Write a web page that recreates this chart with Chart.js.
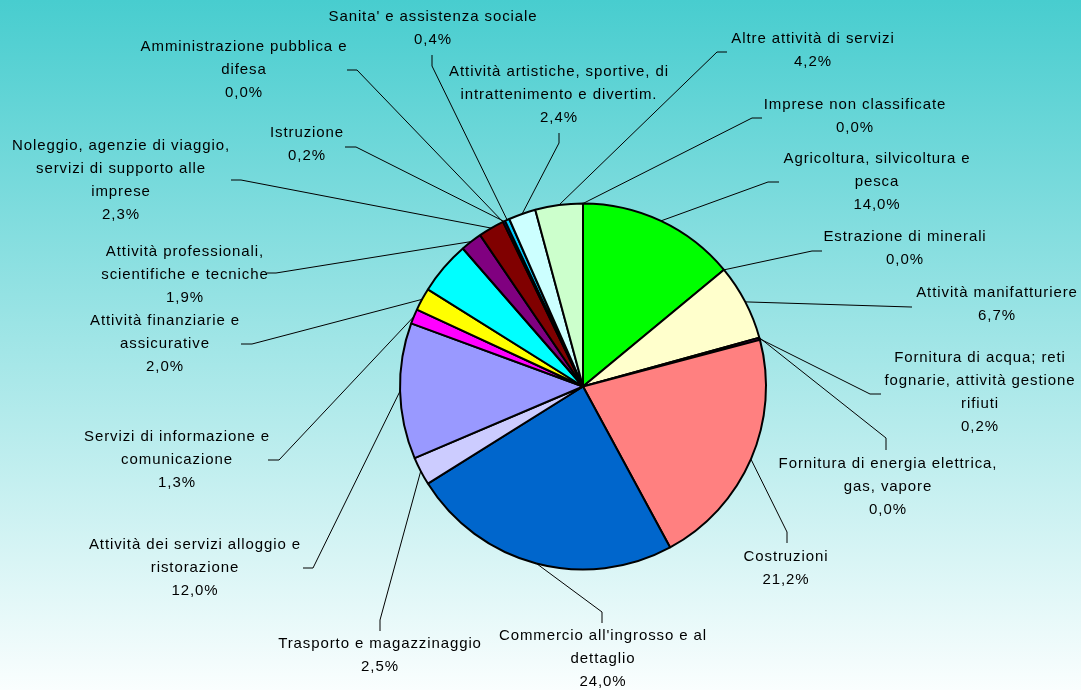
<!DOCTYPE html>
<html>
<head>
<meta charset="utf-8">
<script src="https://cdn.jsdelivr.net/npm/chart.js@4.4.1/dist/chart.umd.min.js"></script>
<style>
  html, body { margin: 0; padding: 0; }
  #wrap { width: 1081px; height: 690px; }
</style>
</head>
<body>
<div id="wrap"><canvas id="myChart" width="1081" height="690"></canvas></div>
<script>
// categories (wrapped as in the original labels)
var categories = [
  ["Agricoltura, silvicoltura e", "pesca"],
  ["Estrazione di minerali"],
  ["Attività manifatturiere"],
  ["Fornitura di energia elettrica,", "gas, vapore"],
  ["Fornitura di acqua; reti", "fognarie, attività gestione", "rifiuti"],
  ["Costruzioni"],
  ["Commercio all'ingrosso e al", "dettaglio"],
  ["Trasporto e magazzinaggio"],
  ["Attività dei servizi alloggio e", "ristorazione"],
  ["Servizi di informazione e", "comunicazione"],
  ["Attività finanziarie e", "assicurative"],
  ["Attività immobiliari"],
  ["Attività professionali,", "scientifiche e tecniche"],
  ["Noleggio, agenzie di viaggio,", "servizi di supporto alle", "imprese"],
  ["Amministrazione pubblica e", "difesa"],
  ["Istruzione"],
  ["Sanita' e assistenza sociale"],
  ["Attività artistiche, sportive, di", "intrattenimento e divertim."],
  ["Altre attività di servizi"],
  ["Imprese non classificate"]
];
var values = [14.0, 0.0, 6.7, 0.0, 0.2, 21.2, 24.0, 2.5, 12.0, 1.3, 2.0, 4.7, 1.9, 2.3, 0.0, 0.2, 0.4, 2.4, 4.2, 0.0];
var sliceColors = [
  "#00FF00", "#993366", "#FFFFCC", "#CCFFFF", "#660066",
  "#FF8080", "#0066CC", "#CCCCFF", "#9999FF", "#FF00FF",
  "#FFFF00", "#00FFFF", "#800080", "#800000", "#008080",
  "#0000FF", "#00CCFF", "#CCFFFF", "#CCFFCC", "#FFFF99"
];

// label placement: text centre x, first line y, leader points (text end -> elbow)
var labelLayout = [
  [877, 159, [[779, 182], [768, 182]]],
  [905, 237, [[822, 251], [812, 251]]],
  [997, 293, [[912, 307], [911, 307]]],
  [888, 464, [[886, 450], [886, 438]]],
  [980, 358, [[881, 394], [870, 394]]],
  [786, 557, [[787, 543], [787, 532]]],
  [603, 636, [[602, 623], [602, 612]]],
  [380, 644, [[380, 631], [380, 620]]],
  [195, 545, [[303, 568], [313, 568]]],
  [177, 437, [[268, 460], [279, 460]]],
  [165, 321, [[241, 344], [252, 344]]],
  null,
  [185, 252, [[267, 273], [276, 273]]],
  [121, 146, [[231, 180], [241, 180]]],
  [244, 47, [[347, 70], [357, 70]]],
  [307, 133, [[345, 147], [356, 147]]],
  [433, 17, [[432, 55], [432, 66]]],
  [559, 72, [[559, 133], [559, 143]]],
  [813, 39, [[727, 52], [717, 52]]],
  [855, 105, [[762, 118], [752, 118]]]
];

var bgPlugin = {
  id: 'bg',
  beforeDraw: function(chart) {
    var ctx = chart.ctx;
    var g = ctx.createLinearGradient(0, 0, 0, chart.height);
    g.addColorStop(0, '#48CDCF');
    g.addColorStop(1, '#FAFEFE');
    ctx.save();
    ctx.fillStyle = g;
    ctx.fillRect(0, 0, chart.width, chart.height);
    ctx.restore();
  }
};

var labelPlugin = {
  id: 'pieLabels',
  afterDatasetsDraw: function(chart) {
    var ctx = chart.ctx;
    var arcs = chart.getDatasetMeta(0).data;
    ctx.save();
    ctx.font = '15px "Liberation Sans", Arial, sans-serif';
    ctx.letterSpacing = '0.9px';
    ctx.fillStyle = '#000';
    ctx.textAlign = 'center';
    ctx.textBaseline = 'middle';
    ctx.strokeStyle = '#000';
    ctx.lineWidth = 1;
    for (var i = 0; i < arcs.length; i++) {
      var lay = labelLayout[i];
      if (!lay) continue;
      var a = arcs[i];
      var mid = (a.startAngle + a.endAngle) / 2;
      var sx = a.x + Math.cos(mid) * a.outerRadius;
      var sy = a.y + Math.sin(mid) * a.outerRadius;
      var pts = lay[2];
      ctx.beginPath();
      ctx.moveTo(pts[0][0], pts[0][1]);
      ctx.lineTo(pts[1][0], pts[1][1]);
      ctx.lineTo(sx, sy);
      ctx.stroke();
      var lines = categories[i].concat([values[i].toFixed(1).replace('.', ',') + '%']);
      for (var k = 0; k < lines.length; k++) {
        ctx.fillText(lines[k], lay[0], lay[1] + k * 23);
      }
    }
    ctx.restore();
  }
};

new Chart("myChart", {
  type: "pie",
  data: {
    labels: categories,
    datasets: [{
      data: values,
      backgroundColor: sliceColors,
      borderColor: "#000",
      borderWidth: 2,
      radius: 183
    }]
  },
  options: {
    responsive: false,
    animation: false,
    layout: { padding: { left: 85, right: 0, top: 83, bottom: 0 } },
    plugins: {
      legend: { display: false },
      tooltip: { enabled: false }
    }
  },
  plugins: [bgPlugin, labelPlugin]
});
</script>
</body>
</html>
